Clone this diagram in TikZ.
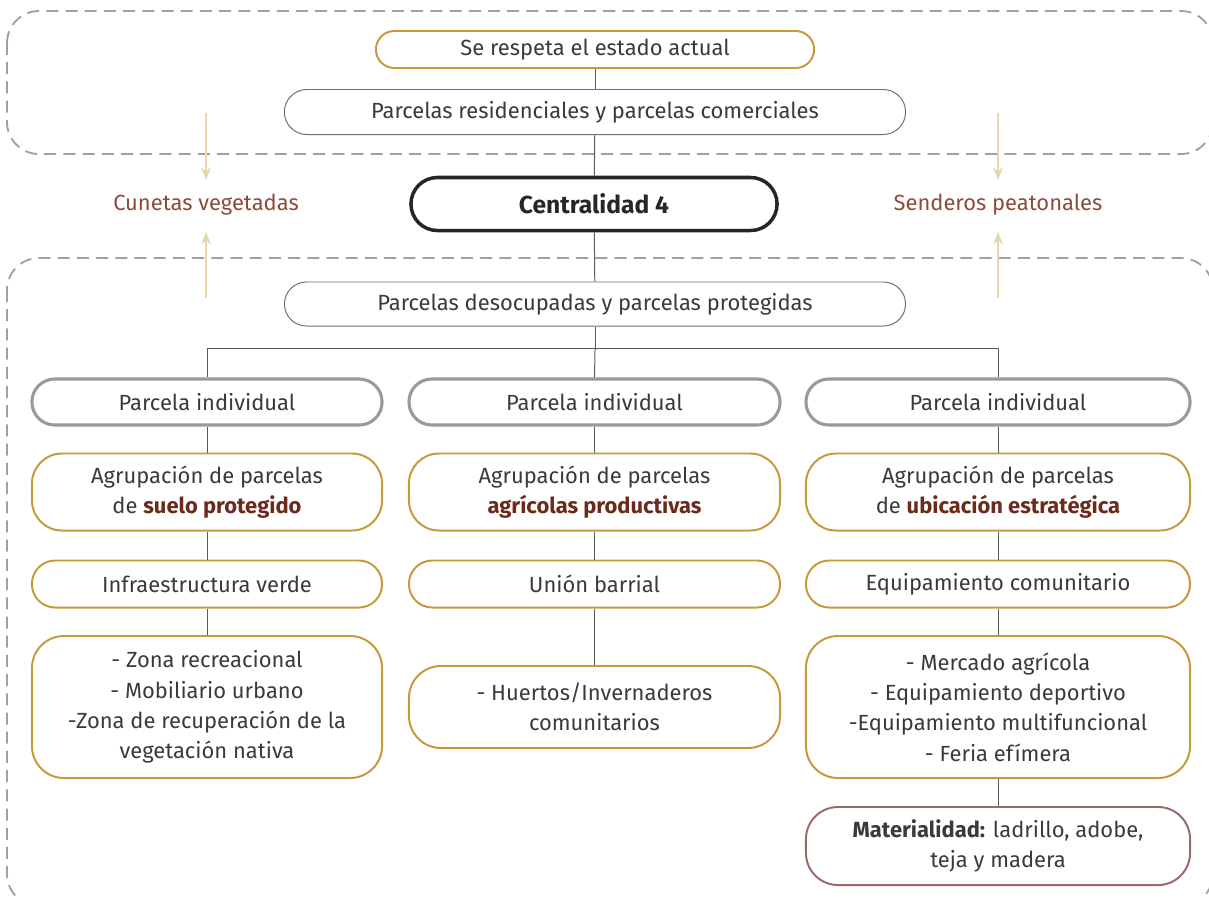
\documentclass[tikz,border=0pt]{standalone}
\usepackage{fontspec}
\setmainfont{Fira Sans}
\usetikzlibrary{arrows.meta}

\definecolor{oro}{HTML}{C49B38}
\definecolor{grisborde}{HTML}{9A9A9C}
\definecolor{grisfino}{HTML}{6E6E70}
\definecolor{grislinea}{HTML}{5A5A5A}
\definecolor{grismarco}{HTML}{A0A0A2}
\definecolor{textogris}{HTML}{3A3A3C}
\definecolor{cafe}{HTML}{8C4B3A}
\definecolor{cafeosc}{HTML}{6B2A1C}
\definecolor{flecha}{HTML}{E8D8AC}
\definecolor{vino}{HTML}{9C6A66}

\tikzset{
  caja/.style={align=center,inner sep=0pt,text=textogris,fill=white,
    font=\fontsize{15.6}{21.5}\selectfont},
  oro/.style={caja,draw=oro,line width=1.4pt},
  gris/.style={caja,draw=grisborde,line width=2.2pt},
  fino/.style={caja,draw=grisfino,line width=0.7pt},
  marco/.style={draw=grismarco,line width=1.3pt,dash pattern=on 0.3cm off 0.18cm,rounded corners=0.8cm},
  enlace/.style={draw=grislinea,line width=0.7pt},
  via/.style={draw=flecha,line width=0.8pt,-{Stealth[length=9pt,width=7pt]}},
  lado/.style={text=cafe,font=\fontsize{15.6}{21}\selectfont},
}

\begin{document}
\begin{tikzpicture}[x=0.025cm,y=-0.025cm]
\useasboundingbox(0,0)rectangle(1209,897);
\clip(0,0)rectangle(1209,897);

%marcos
\draw[marco](7,11)rectangle(1213,154); %marco arriba
\draw[marco](7,258)rectangle(1213,906); %marco abajo

%arriba
\node[oro,minimum width=10.95cm,minimum height=0.925cm,rounded corners=0.46cm](actual)at(595,49.5){Se respeta el estado actual};
\node[fino,minimum width=15.525cm,minimum height=1.125cm,rounded corners=0.56cm](resid)at(595,112){Parcelas residenciales y parcelas comerciales};
\node[caja,draw=black!85,line width=2.5pt,minimum width=9.15cm,minimum height=1.325cm,rounded corners=0.66cm,font=\fontsize{17.5}{21}\selectfont\bfseries,text=black!85](central)at(594,204){Centralidad 4};
\node[fino,minimum width=15.525cm,minimum height=1.1cm,rounded corners=0.55cm](desoc)at(595,304){Parcelas desocupadas y parcelas protegidas};

%lados
\node[lado](cunetas)at(206,205){Cunetas vegetadas};
\node[lado](senderos)at(998,205){Senderos peatonales};
\coordinate(c1)at(206,113); \coordinate(c2)at(206,180);
\coordinate(c3)at(206,298); \coordinate(c4)at(206,232);
\coordinate(s1)at(998,113); \coordinate(s2)at(998,180);
\coordinate(s3)at(998,298); \coordinate(s4)at(998,232);
\draw[via](c1)--(c2);
\draw[via](c3)--(c4);
\draw[via](s1)--(s2);
\draw[via](s3)--(s4);

%fila parcela individual
\node[gris,minimum width=8.75cm,minimum height=1.15cm,rounded corners=0.57cm](pi1)at(207,402){Parcela individual};
\node[gris,minimum width=9.275cm,minimum height=1.15cm,rounded corners=0.57cm](pi2)at(594.5,402){Parcela individual};
\node[gris,minimum width=9.6cm,minimum height=1.15cm,rounded corners=0.57cm](pi3)at(998,402){Parcela individual};

%fila agrupacion
\node[oro,minimum width=8.75cm,minimum height=1.925cm,rounded corners=0.75cm](ag1)at(207,492){Agrupación de parcelas\\de \textbf{\color{cafeosc}suelo protegido}};
\node[oro,minimum width=9.275cm,minimum height=1.925cm,rounded corners=0.75cm](ag2)at(594.5,492){Agrupación de parcelas\\\textbf{\color{cafeosc}agrícolas productivas}};
\node[oro,minimum width=9.6cm,minimum height=1.925cm,rounded corners=0.75cm](ag3)at(998,492){Agrupación de parcelas\\de \textbf{\color{cafeosc}ubicación estratégica}};

%fila tipo
\node[oro,minimum width=8.75cm,minimum height=1.175cm,rounded corners=0.58cm](ti1)at(207,584){Infraestructura verde};
\node[oro,minimum width=9.275cm,minimum height=1.175cm,rounded corners=0.58cm](ti2)at(594.5,584){Unión barrial};
\node[oro,minimum width=9.6cm,minimum height=1.175cm,rounded corners=0.58cm](ti3)at(998,584){Equipamiento comunitario};

%fila listas
\node[oro,minimum width=8.75cm,minimum height=3.55cm,rounded corners=0.8cm](li1)at(207,707){- Zona recreacional\\- Mobiliario urbano\\-Zona de recuperación de la\\vegetación nativa};
\node[oro,minimum width=9.275cm,minimum height=2.05cm,rounded corners=0.8cm](li2)at(594.5,707){- Huertos/Invernaderos\\comunitarios};
\node[oro,minimum width=9.6cm,minimum height=3.55cm,rounded corners=0.8cm](li3)at(998,707){- Mercado agrícola\\- Equipamiento deportivo\\-Equipamiento multifuncional\\- Feria efímera};

%materialidad
\node[caja,draw=vino,line width=1.4pt,minimum width=9.6cm,minimum height=1.95cm,rounded corners=0.8cm](mat)at(998,846){\textbf{Materialidad:} ladrillo, adobe,\\teja y madera};

%enlaces
\draw[enlace](actual)--(resid);
\draw[enlace](resid)--(central);
\draw[enlace](central)--(desoc);
\draw[enlace](desoc.south)--(595,350);
\draw[enlace](pi1.north)--++(0,-29)-|(pi3.north);
\draw[enlace](595,350)--(pi2.north);
\foreach \c in {1,2,3}{
  \draw[enlace](pi\c)--(ag\c);
  \draw[enlace](ag\c)--(ti\c);
  \draw[enlace](ti\c)--(li\c);
}
\draw[enlace](li3)--(mat);
\end{tikzpicture}
\end{document}
